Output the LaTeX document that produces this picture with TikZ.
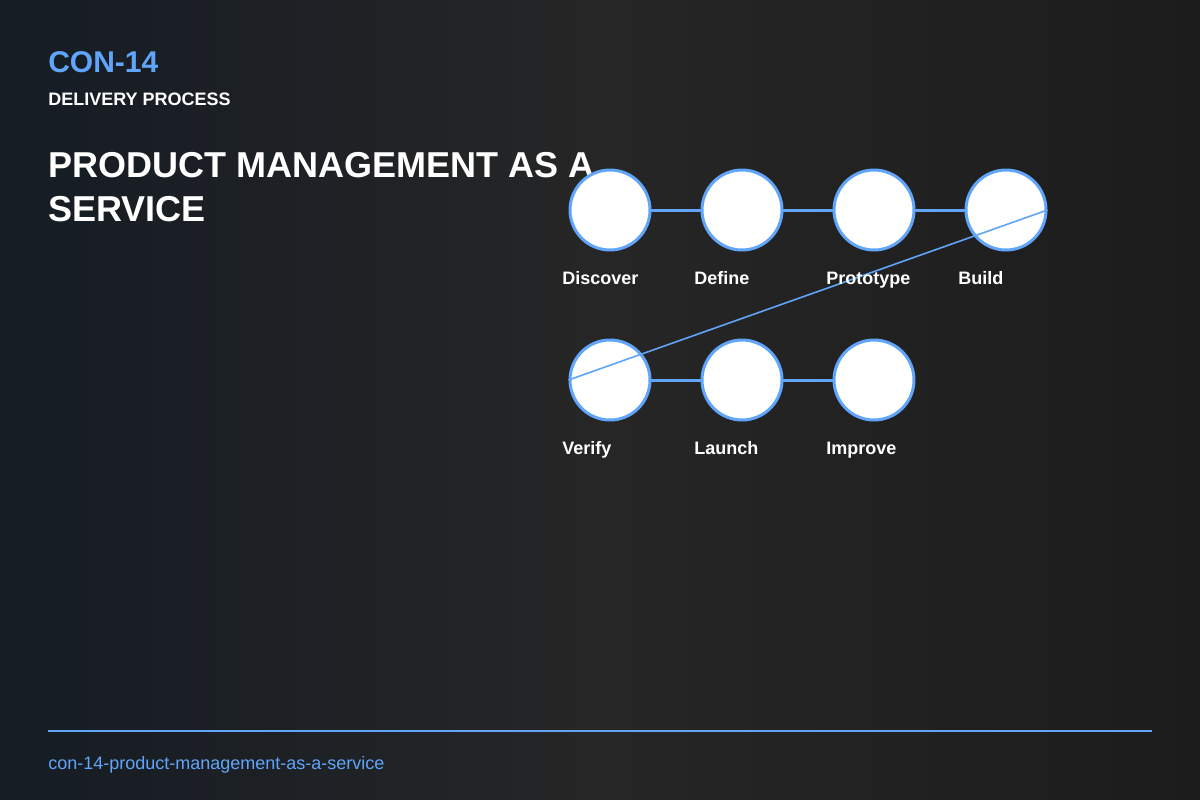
\documentclass[tikz,border=0pt]{standalone}
\usepackage{fontspec}
\setmainfont{Liberation Sans}
\definecolor{accent}{HTML}{60A5FA}
\definecolor{bgleft}{HTML}{151C24}
\definecolor{bgmid}{HTML}{262626}
\definecolor{bgright}{HTML}{1C1C1C}
\begin{document}
\begin{tikzpicture}[x=0.75pt,y=-0.75pt,
  stepcircle/.style={circle,draw=accent,line width=2.25pt,fill=white,minimum size=60pt,inner sep=0pt},
  steplabel/.style={anchor=base west,text=white,font=\bfseries\fontsize{13.5}{16}\selectfont,inner sep=0pt},
  link/.style={draw=accent,line width=2.25pt},
  jump/.style={draw=accent,line width=1.2pt}]
% background
\shade[left color=bgleft,right color=bgright,middle color=bgmid] (0,0) rectangle (1200,800);
\useasboundingbox (0,0) rectangle (1200,800);
% header
\node[anchor=base west,inner sep=0pt,text=accent,font=\bfseries\fontsize{22.5}{26}\selectfont] (code) at (48,72) {CON-14};
\node[anchor=base west,inner sep=0pt,text=white,font=\bfseries\fontsize{13.5}{16}\selectfont] (kind) at (48,105) {DELIVERY PROCESS};
\node[anchor=base west,inner sep=0pt,text=white,font=\bfseries\fontsize{27}{33}\selectfont] (title1) at (48,177) {PRODUCT MANAGEMENT AS A};
\node[anchor=base west,inner sep=0pt,text=white,font=\bfseries\fontsize{27}{33}\selectfont] (title2) at (48,221) {SERVICE};
% steps
\coordinate (c1) at (610,210);
\coordinate (c2) at (742,210);
\coordinate (c3) at (874,210);
\coordinate (c4) at (1006,210);
\coordinate (c5) at (610,380);
\coordinate (c6) at (742,380);
\coordinate (c7) at (874,380);
\draw[link] (c1) -- (c2) -- (c3) -- (c4);
\draw[link] (c5) -- (c6) -- (c7);
\node[stepcircle] (s1) at (c1) {};
\node[stepcircle] (s2) at (c2) {};
\node[stepcircle] (s3) at (c3) {};
\node[stepcircle] (s4) at (c4) {};
\node[stepcircle] (s5) at (c5) {};
\node[stepcircle] (s6) at (c6) {};
\node[stepcircle] (s7) at (c7) {};
\draw[jump] (s4.east) -- (s5.west);
\node[steplabel] (l1) at (562,284) {Discover};
\node[steplabel] (l2) at (694,284) {Define};
\node[steplabel] (l3) at (826,284) {Prototype};
\node[steplabel] (l4) at (958,284) {Build};
\node[steplabel] (l5) at (562,454) {Verify};
\node[steplabel] (l6) at (694,454) {Launch};
\node[steplabel] (l7) at (826,454) {Improve};
% footer
\coordinate (fl) at (48,731);
\coordinate (fr) at (1152,731);
\draw[draw=accent,line width=1.5pt] (fl) -- (fr);
\node[anchor=base west,inner sep=0pt,text=accent,font=\fontsize{13.5}{16}\selectfont] (slug) at (48,769) {con-14-product-management-as-a-service};
\end{tikzpicture}
\end{document}
